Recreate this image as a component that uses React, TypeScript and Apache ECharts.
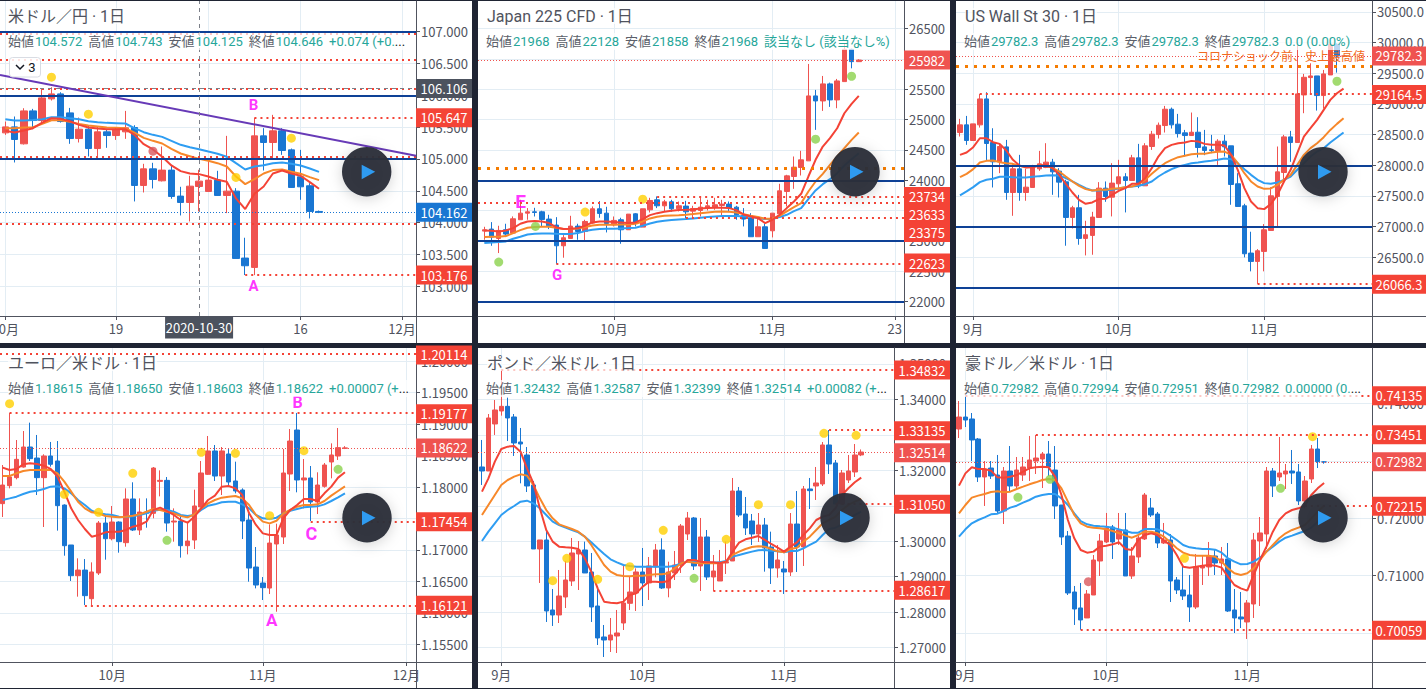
import React, { useEffect, useRef } from "react";
import * as echarts from "echarts";

// Bars are rows of [open, high, low, close]
const usdJpyBars = [
  [105.41,105.588,105.379,105.504],[105.504,105.667,104.945,105.306],[105.238,105.797,105.227,105.755],[105.755,105.787,105.468,105.604],
  [105.604,106.111,105.572,105.959],[105.944,106.127,105.918,106.022],[106.022,106.048,105.572,105.588],[105.724,105.802,105.238,105.321],
  [105.321,105.651,105.259,105.468],[105.468,105.52,105.039,105.164],[105.164,105.51,105.039,105.426],[105.426,105.457,105.175,105.368],
  [105.368,105.494,105.3,105.457],[105.426,105.755,105.316,105.489],[105.494,105.53,104.333,104.584],[104.584,104.924,104.474,104.845],
  [104.845,104.94,104.537,104.678],[104.657,105.196,104.647,104.825],[104.825,104.892,104.375,104.411],[104.417,104.563,104.113,104.317],
  [104.317,104.736,104.019,104.573],[104.568,104.83,104.176,104.652],[104.49,104.966,104.485,104.668],[104.668,104.814,104.422,104.427],
  [104.427,105.363,104.15,104.495],[104.495,104.542,103.438,103.438],[103.444,103.763,103.177,103.323],[103.297,105.647,103.176,105.363],
  [105.363,105.484,104.819,105.259],[105.259,105.693,105.007,105.442],[105.442,105.484,105.065,105.133],[105.143,105.164,104.547,104.553],
  [104.72,105.143,104.359,104.563],[104.579,104.62,104.066,104.176],[104.176,104.19,104.15,104.162],
];
const usdJpyBlue = [105.625,105.604,105.604,105.614,105.625,105.656,105.656,105.64,105.625,105.593,105.578,105.567,105.562,105.557,105.484,105.421,105.379,105.347,105.285,105.222,105.185,105.154,105.117,105.081,105.034,104.934,104.835,104.882,104.903,104.934,104.945,104.924,104.898,104.851,104.798];
const usdJpyOrange = [105.484,105.484,105.494,105.499,105.551,105.609,105.609,105.583,105.551,105.525,105.51,105.494,105.489,105.484,105.415,105.332,105.285,105.243,105.159,105.086,105.044,105.002,104.971,104.934,104.882,104.725,104.605,104.683,104.772,104.825,104.835,104.798,104.767,104.715,104.668];
const usdJpyRed = [105.442,105.415,105.447,105.484,105.572,105.64,105.63,105.593,105.536,105.494,105.478,105.468,105.468,105.468,105.379,105.232,105.149,105.034,104.898,104.809,104.772,104.762,104.725,104.673,104.641,104.38,104.213,104.453,104.568,104.772,104.819,104.772,104.736,104.636,104.532];

const jp225Bars = [
  [23162,23233,23019,23184],[23195,23310,22920,23063],[23041,23250,22800,23173],[23184,23283,23063,23113],[23129,23404,23113,23365],
  [23349,23678,23349,23458],[23458,23541,23349,23480],[23480,23546,23403,23469],[23480,23497,23239,23354],[23360,23431,23195,23250],
  [23261,23392,22623,22920],[22920,23096,22723,23052],[23041,23414,23041,23244],[23244,23283,23019,23156],[23156,23349,22992,23321],
  [23294,23568,23283,23530],[23530,23656,23382,23453],[23458,23563,23140,23288],[23266,23403,23239,23338],[23349,23382,22953,23184],
  [23184,23442,23184,23442],[23447,23458,23239,23288],[23228,23530,23228,23530],[23513,23711,23469,23667],[23678,23734,23541,23579],
  [23579,23678,23486,23645],[23645,23678,23480,23530],[23530,23650,23486,23579],[23574,23661,23371,23480],[23491,23579,23371,23535],
  [23502,23734,23403,23557],[23541,23678,23502,23579],[23557,23711,23513,23596],[23585,23678,23414,23607],[23607,23650,23475,23541],
  [23557,23579,23349,23431],[23420,23541,23239,23360],[23376,23458,23069,23069],[23069,23403,23069,23233],[23233,23283,22876,22876],
  [23167,23458,23058,23458],[23447,23942,23447,23826],[23815,24090,23568,24073],[24062,24392,23859,24216],[24211,24485,24079,24337],
  [24320,25918,24320,25391],[25391,25490,24831,25308],[25308,25720,25144,25589],[25589,25610,25210,25325],[25325,25671,25188,25638],
  [25627,26258,25627,26159],[26159,26170,25846,25956],[25956,25995,25950,25982],
];
const jp225Blue = [22964,22975,22981,22992,23036,23069,23107,23118,23124,23124,23118,23113,23113,23129,23162,23184,23195,23200,23200,23206,23211,23217,23250,23288,23316,23332,23343,23354,23360,23371,23382,23393,23403,23409,23409,23409,23403,23393,23376,23360,23360,23393,23431,23491,23541,23689,23832,23936,24018,24117,24243,24348,24447];
const jp225Orange = [23063,23069,23069,23080,23129,23178,23217,23228,23233,23233,23217,23195,23195,23206,23228,23255,23266,23266,23266,23272,23272,23283,23321,23371,23398,23414,23420,23425,23431,23442,23458,23469,23480,23486,23480,23469,23442,23414,23393,23365,23365,23414,23486,23557,23623,23815,23980,24106,24254,24392,24529,24666,24787];
const jp225Red = [23173,23167,23156,23173,23211,23283,23321,23327,23321,23294,23222,23195,23200,23211,23250,23305,23321,23321,23310,23305,23294,23305,23360,23425,23458,23480,23497,23508,23513,23519,23535,23541,23546,23546,23541,23508,23436,23403,23376,23294,23349,23431,23541,23650,23777,24062,24337,24556,24694,24858,25105,25259,25391];

const us30Bars = [
  [28534,28757,28469,28659],[28659,28805,28333,28404],[28404,28675,28404,28675],[28659,29164.5,28615,29082],[29082,29191,28067,28355],
  [28371,28604,27638,28056],[28056,28360,27871,28306],[28300,28414,27437,27556],[27556,28018,27176,27942],[27942,28170,27421,27556],
  [27556,27942,27421,27643],[27638,28007,27638,27980],[27942,28235,27909,28023],[27964,28360,27953,28051],[28051,28105,27518,27893],
  [27904,27953,27475,27725],[27730,27763,26688,27149],[27149,27339,26970,27307],[27307,27518,26704,26807],[26807,27095,26530,26867],
  [26856,27241,26541,27155],[27149,27725,27149,27627],[27627,27736,27404,27491],[27480,28034,27166,27709],[27698,28089,27600,27812],
  [27812,27871,27231,27752],[27752,28170,27752,28121],[28121,28349,27627,27665],[27665,28360,27665,28317],[28306,28561,28251,28507],
  [28501,28697,28436,28653],[28648,28968,28534,28914],[28914,28941,28599,28659],[28670,28838,28452,28518],[28529,28577,28143,28485],
  [28485,28860,28485,28539],[28539,28784,28127,28290],[28300,28577,28165,28241],[28252,28496,28197,28241],[28241,28425,28007,28393],
  [28393,28496,28143,28300],[28317,28317,27356,27687],[27698,27871,27328,27328],[27339,27372,26498,26557],[26568,26916,26270,26432],
  [26432,26633,26066.3,26606],[26595,27041,26270,26948],[26937,27643,26937,27502],[27491,28306,26992,27893],[27882,28496,27741,28463],
  [28463,28561,28056,28371],[28371,29962,28371,29164],[29147,29490,28849,29435],[29430,29663,29147,29457],[29457,29457,28892,29137],
  [29137,29555,28925,29490],[29473,29989,29473,29973],[29973,29989,29511,29782],[29782.3,29782.3,29782.3,29782.3],
];
const us30Blue = [27508,27573,27643,27725,27763,27779,27812,27812,27806,27801,27801,27812,27823,27833,27839,27833,27790,27736,27681,27627,27589,27589,27594,27600,27622,27643,27654,27665,27692,27736,27817,27882,27937,27980,28007,28034,28045,28061,28072,28089,28110,28099,28034,27937,27844,27763,27709,27698,27719,27763,27817,27926,28034,28143,28224,28279,28371,28452,28534];
const us30Orange = [27806,27860,27937,28045,28072,28078,28051,28034,28023,27991,27969,27980,27996,27996,27953,27899,27817,27736,27665,27611,27589,27600,27600,27616,27627,27643,27654,27692,27763,27860,27953,28034,28089,28132,28154,28181,28186,28186,28208,28219,28224,28170,28034,27871,27736,27654,27616,27622,27681,27763,27844,28007,28170,28279,28360,28458,28577,28675,28767];
const us30Red = [28170,28208,28295,28441,28441,28376,28349,28241,28089,27996,27964,27969,27991,28007,27953,27844,27698,27556,27437,27372,27394,27448,27453,27518,27584,27627,27698,27698,27790,27953,28143,28279,28333,28360,28371,28398,28387,28349,28333,28333,28322,28170,27926,27627,27410,27301,27285,27366,27518,27736,27926,28197,28469,28604,28740,28903,29066,29175,29251];

const eurUsdBars = [
  [1.17736,1.1835,1.17524,1.18032],[1.18022,1.19177,1.17979,1.18159],[1.18149,1.18747,1.18122,1.1844],[1.18318,1.1889,1.18308,1.18636],[1.18636,1.19023,1.18414,1.18451],
  [1.18461,1.18827,1.17873,1.18149],[1.18149,1.1852,1.17365,1.18493],[1.18493,1.18716,1.18324,1.18361],[1.18414,1.18731,1.17307,1.17704],[1.17714,1.17725,1.16909,1.17068],
  [1.17079,1.17079,1.16507,1.16591],[1.16591,1.16867,1.16258,1.16681],[1.16681,1.16856,1.16125,1.16274],[1.16226,1.16803,1.16125,1.1665],[1.16634,1.1746,1.16602,1.17428],
  [1.17428,1.17545,1.16846,1.17179],[1.17179,1.17699,1.17153,1.17444],[1.17444,1.17455,1.16957,1.17132],[1.17116,1.17979,1.17052,1.1781],[1.1781,1.18075,1.17301,1.17317],
  [1.17317,1.1782,1.17238,1.17603],[1.17603,1.1782,1.17354,1.17582],[1.17582,1.18318,1.17503,1.18302],[1.1809,1.18265,1.17852,1.18106],[1.18106,1.18159,1.17291,1.17428],
  [1.17444,1.17661,1.17132,1.1746],[1.1746,1.17571,1.16878,1.17068],[1.17068,1.1745,1.1693,1.17142],[1.17158,1.17958,1.17015,1.17699],[1.17683,1.18414,1.17672,1.18223],
  [1.18202,1.18811,1.18191,1.18573],[1.18573,1.18668,1.18096,1.18175],[1.18175,1.18636,1.17873,1.18573],[1.18525,1.18604,1.18016,1.1808],[1.18096,1.18403,1.179,1.17937],
  [1.17953,1.17979,1.17174,1.1746],[1.17476,1.17582,1.16496,1.16713],[1.16729,1.17047,1.1639,1.16443],[1.16475,1.1657,1.16205,1.16401],[1.16395,1.17407,1.163,1.1711],
  [1.17095,1.17418,1.16019,1.17238],[1.17206,1.18604,1.17095,1.18223],[1.18207,1.18922,1.17937,1.18731],[1.18906,1.19177,1.17916,1.18112],[1.18112,1.18445,1.17661,1.18144],
  [1.18144,1.18334,1.1746,1.17762],[1.17762,1.18234,1.17571,1.18032],[1.18011,1.18382,1.1799,1.1835],[1.18398,1.18694,1.18138,1.18509],[1.18493,1.18938,1.1843,1.18626],
  [1.18615,1.1865,1.18603,1.18622],
];
const eurUsdBlue = [1.17794,1.1782,1.17847,1.17889,1.17926,1.17942,1.17969,1.18006,1.18011,1.17979,1.179,1.17794,1.17714,1.17624,1.17582,1.17566,1.17556,1.17529,1.17524,1.17534,1.17556,1.17582,1.17624,1.1764,1.17635,1.17608,1.17556,1.1754,1.17556,1.17635,1.17704,1.17725,1.17757,1.17767,1.17767,1.17725,1.17661,1.17556,1.17503,1.17492,1.17513,1.17582,1.17624,1.17651,1.17677,1.17688,1.17693,1.17725,1.17778,1.17836,1.179];
const eurUsdOrange = [1.18175,1.18175,1.18218,1.18255,1.18271,1.18271,1.18276,1.18271,1.18218,1.18085,1.17926,1.17767,1.17661,1.17598,1.17582,1.1754,1.17529,1.17518,1.17529,1.17545,1.17566,1.17608,1.17651,1.17635,1.17608,1.17582,1.1754,1.17518,1.17566,1.17661,1.17741,1.17794,1.17831,1.17847,1.17857,1.1782,1.17714,1.17556,1.1745,1.17423,1.17465,1.17582,1.17635,1.17688,1.17714,1.17714,1.17725,1.17778,1.17863,1.17937,1.18011];
const eurUsdRed = [1.18308,1.18271,1.18287,1.18361,1.18377,1.18366,1.18339,1.18287,1.18165,1.17926,1.17661,1.17476,1.17333,1.17211,1.17238,1.1728,1.17291,1.17291,1.17317,1.1737,1.17397,1.1745,1.17635,1.17672,1.17619,1.17556,1.17476,1.17434,1.17529,1.17661,1.17794,1.17863,1.18006,1.18016,1.17979,1.17873,1.17582,1.17397,1.17264,1.17238,1.17238,1.17503,1.17635,1.17714,1.1781,1.1781,1.17778,1.179,1.18006,1.18149,1.18234];

const gbpUsdBars = [
  [1.32093,1.32854,1.31586,1.3198],[1.3198,1.33586,1.3198,1.33474],[1.33305,1.33981,1.32995,1.33699],[1.33671,1.34832,1.33539,1.33802],[1.33802,1.34047,1.32826,1.33474],
  [1.33502,1.33586,1.32403,1.32769],[1.32797,1.33192,1.31632,1.32741],[1.32431,1.32656,1.31388,1.31557],[1.31586,1.31698,1.29782,1.29782],[1.29782,1.30036,1.28824,1.30036],
  [1.30036,1.30345,1.27725,1.28035],[1.28063,1.28655,1.27612,1.27922],[1.27922,1.2919,1.27696,1.28457],[1.28429,1.29444,1.28119,1.28908],[1.2888,1.30092,1.28739,1.29669],
  [1.29641,1.30007,1.28626,1.29754],[1.29754,1.29989,1.29106,1.29106],[1.29134,1.29669,1.27725,1.28147],[1.28175,1.28683,1.27076,1.27274],[1.27302,1.2764,1.26738,1.27217],
  [1.27217,1.27837,1.26879,1.27358],[1.2733,1.28063,1.26851,1.27415],[1.27696,1.29303,1.27499,1.2826],[1.28251,1.29021,1.28063,1.2857],[1.28542,1.29237,1.28035,1.29134],
  [1.29134,1.2981,1.28175,1.28824],[1.28824,1.29556,1.28345,1.29303],[1.29275,1.29923,1.28983,1.29754],[1.29754,1.30082,1.28655,1.28683],[1.28683,1.29425,1.2842,1.29134],
  [1.29106,1.29726,1.28908,1.29331],[1.29331,1.30486,1.29106,1.3043],[1.30205,1.30825,1.30036,1.30656],[1.30656,1.30684,1.2919,1.29303],[1.29303,1.30656,1.28598,1.3012],
  [1.3012,1.30317,1.28908,1.28993],[1.28993,1.29613,1.28598,1.29162],[1.2888,1.29754,1.2888,1.29416],[1.29387,1.29989,1.29077,1.29425],[1.29444,1.31783,1.29444,1.31416],
  [1.31416,1.31529,1.30684,1.3074],[1.30768,1.31247,1.30176,1.30374],[1.30571,1.30768,1.29895,1.30205],[1.30205,1.30796,1.29979,1.30458],[1.30458,1.30656,1.29143,1.2981],
  [1.29838,1.3027,1.28796,1.29246],[1.29246,1.29895,1.28974,1.29472],[1.29218,1.29444,1.28514,1.29134],[1.29134,1.30796,1.29021,1.30486],[1.30486,1.31416,1.29134,1.29838],
  [1.29838,1.31557,1.29303,1.31473],[1.31473,1.31783,1.30909,1.31426],[1.31557,1.32093,1.31163,1.31642],[1.31614,1.32797,1.31557,1.32713],[1.32713,1.33135,1.31896,1.32177],
  [1.32206,1.3229,1.3105,1.3105],[1.3105,1.32008,1.3105,1.31924],[1.31726,1.32431,1.31642,1.3198],[1.31952,1.32741,1.31811,1.32431],[1.32432,1.32587,1.32399,1.32514],
];
const gbpUsdBlue = [1.30007,1.3027,1.30505,1.3074,1.30881,1.30994,1.31116,1.31144,1.31069,1.30928,1.3074,1.30552,1.30458,1.30383,1.30317,1.30252,1.30129,1.2997,1.29801,1.29641,1.29491,1.29406,1.29331,1.29303,1.29284,1.29284,1.29284,1.29284,1.29284,1.29284,1.29312,1.29378,1.29425,1.29444,1.29425,1.29406,1.29397,1.29406,1.29444,1.29566,1.29613,1.2966,1.29707,1.29744,1.29754,1.29735,1.29716,1.29688,1.29726,1.29726,1.29801,1.29895,1.29989,1.30176,1.30345,1.30383,1.30477,1.30646,1.3074,1.30834];
const gbpUsdOrange = [1.3074,1.31022,1.31304,1.31586,1.31726,1.3182,1.31886,1.31849,1.31586,1.3121,1.30881,1.30646,1.30477,1.30411,1.30345,1.3027,1.30129,1.29895,1.29613,1.29331,1.29143,1.29049,1.29021,1.29012,1.2903,1.2903,1.29049,1.29068,1.29068,1.29096,1.29237,1.29378,1.29425,1.29397,1.29378,1.29378,1.29378,1.29378,1.29425,1.29613,1.29707,1.29782,1.29838,1.29857,1.29848,1.29782,1.29716,1.29688,1.29782,1.29819,1.29989,1.30129,1.30317,1.30505,1.30599,1.30693,1.30881,1.31022,1.31116,1.31191];
const gbpUsdRed = [1.31398,1.31773,1.32243,1.326,1.32666,1.32685,1.32525,1.32055,1.31632,1.30928,1.30317,1.29989,1.29848,1.29829,1.29819,1.29782,1.29519,1.29143,1.28673,1.28298,1.28269,1.28251,1.28298,1.28485,1.28532,1.2872,1.28861,1.28861,1.28842,1.2888,1.29068,1.29284,1.29472,1.29472,1.29425,1.29406,1.29406,1.29378,1.29425,1.29707,1.2996,1.30054,1.30101,1.30148,1.30036,1.29923,1.29819,1.29707,1.29848,1.2997,1.30176,1.30364,1.30599,1.30693,1.3074,1.30928,1.31304,1.31492,1.31661,1.31792];

const audUsdBars = [
  [0.73555,0.74043,0.73399,0.73764],[0.73764,0.74135,0.7359,0.73712],[0.7373,0.73834,0.72998,0.73364],[0.73381,0.73399,0.72633,0.7272],[0.7272,0.72998,0.72215,0.72841],
  [0.72876,0.72998,0.72685,0.72737],[0.72754,0.73103,0.72093,0.72128],[0.72128,0.72894,0.71901,0.72824],[0.72824,0.73259,0.72476,0.72563],[0.72563,0.73068,0.72511,0.72841],
  [0.72754,0.73068,0.7265,0.72894],[0.72876,0.73434,0.7265,0.73016],[0.72998,0.73451,0.72772,0.7305],[0.73033,0.73155,0.72528,0.7312],[0.7312,0.73346,0.72737,0.72894],
  [0.72841,0.73259,0.71988,0.72215],[0.72232,0.72232,0.71536,0.71675],[0.71692,0.71779,0.70665,0.707],[0.70717,0.70822,0.70143,0.70421],[0.70439,0.70874,0.70059,0.7023],
  [0.70265,0.70752,0.70265,0.70682],[0.70665,0.71361,0.70665,0.71274],[0.71257,0.71727,0.70996,0.71605],[0.71588,0.72093,0.7157,0.71832],[0.71849,0.71884,0.71292,0.71588],
  [0.7164,0.72093,0.71536,0.71797],[0.71797,0.72093,0.70996,0.70996],[0.70996,0.71501,0.70944,0.71344],[0.71327,0.71692,0.71222,0.71658],[0.7164,0.72441,0.71623,0.72406],
  [0.7218,0.72354,0.72023,0.72058],[0.72075,0.7211,0.71483,0.7157],[0.7157,0.71919,0.71553,0.71623],[0.71623,0.71727,0.70543,0.70909],[0.70926,0.70978,0.70682,0.70752],
  [0.70752,0.71153,0.70578,0.70648],[0.70665,0.71013,0.70195,0.70456],[0.70456,0.71379,0.70421,0.71153],[0.71135,0.71361,0.70839,0.7117],[0.71153,0.71588,0.70996,0.71344],
  [0.71344,0.71449,0.71013,0.71222],[0.71222,0.71501,0.71013,0.71292],[0.71292,0.7157,0.70369,0.70386],[0.70404,0.70769,0.70003,0.70265],[0.70282,0.70717,0.7009,0.70247],
  [0.70195,0.70578,0.69899,0.70526],[0.70508,0.71745,0.70265,0.71623],[0.71605,0.72023,0.70473,0.71745],[0.71727,0.72894,0.71466,0.72824],[0.72824,0.72876,0.72371,0.72563],
  [0.7272,0.73416,0.7265,0.72789],[0.72772,0.72946,0.72511,0.72824],[0.72824,0.7319,0.72598,0.72789],[0.72807,0.72946,0.72232,0.72302],[0.72302,0.72737,0.72174,0.7265],
  [0.72685,0.73277,0.72615,0.73207],[0.73207,0.73399,0.72876,0.72987],[0.72982,0.72994,0.72951,0.72982],
];
const audUsdBlue = [0.71681,0.71808,0.71913,0.71971,0.72017,0.7207,0.72081,0.72128,0.72186,0.7222,0.72273,0.72319,0.72377,0.72406,0.72424,0.72424,0.72348,0.72232,0.72087,0.71953,0.71895,0.71872,0.71861,0.71855,0.71837,0.71808,0.71779,0.7175,0.7175,0.71814,0.71814,0.71808,0.71768,0.71698,0.71623,0.71536,0.71495,0.71478,0.71466,0.71466,0.71454,0.71402,0.71303,0.71245,0.71199,0.71205,0.71245,0.71315,0.7142,0.71507,0.71594,0.71663,0.71698,0.71739,0.71779,0.71837,0.71942,0.72029];
const audUsdOrange = [0.72087,0.72232,0.7236,0.72395,0.72424,0.72458,0.7247,0.72453,0.72464,0.72511,0.72551,0.72592,0.72627,0.72667,0.72685,0.72667,0.72522,0.7229,0.72058,0.71913,0.71855,0.71837,0.71826,0.71808,0.71779,0.71739,0.71698,0.71663,0.7171,0.71768,0.71768,0.71739,0.71681,0.71582,0.71478,0.71402,0.71361,0.7135,0.7135,0.7135,0.71332,0.71245,0.71129,0.71042,0.71013,0.71042,0.71129,0.71274,0.7142,0.71536,0.71652,0.71739,0.71797,0.71837,0.71884,0.72,0.72116,0.7222];
const audUsdRed = [0.72569,0.72783,0.72888,0.72859,0.72859,0.7283,0.72714,0.72708,0.72725,0.72754,0.72812,0.72871,0.72888,0.729,0.72888,0.72725,0.72406,0.71971,0.71652,0.71449,0.71402,0.7142,0.71507,0.71524,0.71547,0.71582,0.71466,0.71449,0.71623,0.7171,0.71739,0.7171,0.71611,0.71536,0.71361,0.71158,0.71141,0.71158,0.71176,0.71187,0.71176,0.71141,0.70984,0.70839,0.70781,0.7074,0.71013,0.71274,0.71507,0.71768,0.71971,0.72087,0.72145,0.72174,0.7222,0.72406,0.72522,0.72615];

const Y = "#ffd000", G = "#8bd24c", R = "#d9575c";
const RED_TAG = "#f44336", LAST_TAG = "#ef5350", BLUE_TAG = "#1976d2", DARK_TAG = "#4c525e";

// dots: [bar index, price, colour]
const usdJpyDots = [[5,106.284,Y],[9,105.703,Y],[25,104.71,Y],[31,105.327,Y],[16,105.123,R]];
const jp225Dots = [[2,22651,G],[7.1,23239,G],[46,24677,G],[51,25715,G],[14,23475,Y],[22,23689,Y]];
const us30Dots = [[57,29370,G]];
const eurUsdDots = [[1,1.19325,Y],[9,1.17884,Y],[14,1.17598,Y],[19,1.18218,Y],[29,1.18551,Y],[34,1.18535,Y],[39,1.17545,Y],[44,1.18578,Y],[24,1.17153,G],[49,1.18281,G]];
const gbpUsdDots = [[11,1.2889,Y],[13.2,1.29519,Y],[18,1.28927,Y],[23,1.29284,Y],[28.2,1.30308,Y],[38,1.30054,Y],[43,1.31031,Y],[48,1.31031,Y],[53.2,1.33042,Y],[58.2,1.32985,Y],[33,1.28955,G]];
const audUsdDots = [[9.2,0.72366,G],[14.2,0.72679,G],[20.2,0.70897,R],[35.2,0.71303,Y],[50.2,0.72522,G],[55.2,0.73422,Y]];

// letters: [bar index, price, text, size]
const usdJpyLetters = [[26.9,105.85,"B",15],[26.9,103.01,"A",15]];
const jp225Letters = [[5.05,23650,"E",19],[10.1,22432,"G",15]];
const eurUsdLetters = [[43.1,1.19346,"B",16],[39.3,1.15887,"A",17],[45.1,1.17259,"C",18]];

// level lines: [price, first bar or null, style]
const usdJpyLevels = [[107,null,"solid"],[106,null,"solid"],[105,null,"solid"],[106.97,null,"dot"],[106.556,null,"dot"],[106.106,null,"dot"],[106.106,null,"cross"],[105.647,27,"dot"],[105.04,null,"dot"],[103.98,null,"dot"],[103.176,26,"dot"],[104.162,null,"thinBlue"]];
const jp225Levels = [[24000,null,"solid"],[23000,null,"solid"],[22000,null,"solid"],[24198,null,"orange"],[23734,24,"dot"],[23633,null,"dot"],[23375,28,"dot"],[22623,10,"dot"],[25982,null,"thin"]];
const us30Levels = [[28000,null,"solid"],[27000,null,"solid"],[26000,null,"solid"],[29614,null,"orange"],[29164.5,3,"dot"],[26066.3,45,"dot"],[29782.3,null,"thin"]];
const eurUsdLevels = [[1.20114,null,"dot"],[1.19177,1,"dot"],[1.17454,45,"dot"],[1.16121,12,"dot"],[1.18622,null,"thin"]];
const gbpUsdLevels = [[1.34832,3,"dot"],[1.33135,54,"dot"],[1.3105,55,"dot"],[1.28617,36,"dot"],[1.32514,null,"thin"]];
const audUsdLevels = [[0.74135,1,"dot"],[0.73451,12,"dot"],[0.72215,54,"dot"],[0.70059,19,"dot"],[0.72982,null,"thin"]];

// price tags: [text, price the tag sits at, colour]
const usdJpyTags = [["106.106",106.106,DARK_TAG],["105.647",105.647,RED_TAG],["104.162",104.162,BLUE_TAG],["103.176",103.176,RED_TAG]];
const jp225Tags = [["25982",25982,LAST_TAG],["23734",23733,RED_TAG],["23633",23436,RED_TAG],["23375",23140,RED_TAG],["22623",22635,RED_TAG]];
const us30Tags = [["29782.3",29782.3,LAST_TAG],["29164.5",29153,RED_TAG],["26066.3",26060,RED_TAG]];
const eurUsdTags = [["1.20114",1.20098,RED_TAG],["1.19177",1.19166,RED_TAG],["1.18622",1.18622,LAST_TAG],["1.17454",1.17449,RED_TAG],["1.16121",1.16121,RED_TAG]];
const gbpUsdTags = [["1.34832",1.34826,RED_TAG],["1.33135",1.33117,RED_TAG],["1.32514",1.32497,LAST_TAG],["1.31050",1.31041,RED_TAG],["1.28617",1.28617,RED_TAG]];
const audUsdTags = [["0.74135",0.74135,RED_TAG],["0.73451",0.73455,RED_TAG],["0.72982",0.72986,LAST_TAG],["0.72215",0.72209,RED_TAG],["0.70059",0.7005,RED_TAG]];

const usdJpyYTicks = [107,106.5,106,105.5,105,104.5,104,103.5,103];
const jp225YTicks = [26500,26000,25500,25000,24500,24000,23500,23000,22500,22000];
const us30YTicks = [30500,30000,29500,29000,28500,28000,27500,27000,26500,26000];
const eurUsdYTicks = [1.2,1.195,1.19,1.185,1.18,1.175,1.17,1.165,1.16,1.155];
const gbpUsdYTicks = [1.35,1.34,1.33,1.32,1.31,1.3,1.29,1.28,1.27];
const audUsdYTicks = [0.74,0.73,0.72,0.71,0.7];

const usdJpyXTicks = [0,12,22,32,43], usdJpyXLabels = ["10月","19","11月","16","12月"];
const jp225XTicks = [18,40,57], jp225XLabels = ["10月","11月","23"];
const us30XTicks = [2,24,46], us30XLabels = ["9月","10月","11月"];
const eurUsdXTicks = [16,38,59], eurUsdXLabels = ["10月","11月","12月"];
const gbpUsdXTicks = [3,25,47], gbpUsdXLabels = ["9月","10月","11月"];
const audUsdXTicks = [1,23,45], audUsdXLabels = ["9月","10月","11月"];

const ohlc = (o: string, h: string, l: string, c: string, tail: string) =>
  `{k|始値}{v|${o}}{k|高値}{v|${h}}{k|安値}{v|${l}}{k|終値}{v|${c}}${tail}`;

const panels: any[] = [
  { title: "米ドル／円 · 1日", legend: ohlc("104.572", "104.743", "104.125", "104.646", "{c|+0.074 (+0.}{d|...}"),
    rect: [0, 1, 472, 342], grid: [0, 1, 416, 315], x: [-0.578, 44.51], y: [102.534, 107.481], play: [366.7, 171.7], barW: 7, digits: 3,
    bars: usdJpyBars, blue: usdJpyBlue, orange: usdJpyOrange, red: usdJpyRed, dots: usdJpyDots, letters: usdJpyLetters, levels: usdJpyLevels, tags: usdJpyTags, yTicks: usdJpyYTicks, xTicks: usdJpyXTicks, xLabels: usdJpyXLabels,
    legendXY: [8, 33], titleXY: [8, 8], trend: [106.32, 105.05], cross: 21, crossLabel: "2020-10-30" },
  { title: "Japan 225 CFD · 1日", legend: ohlc("21968", "22128", "21858", "21968", "{c|該当なし (該当なし%)}"),
    rect: [478, 1, 472, 342], grid: [478, 1, 426, 315], x: [-0.879, 58.28], y: [21762, 26956], play: [855, 171.7], barW: 5, digits: 0,
    bars: jp225Bars, blue: jp225Blue, orange: jp225Orange, red: jp225Red, dots: jp225Dots, letters: jp225Letters, levels: jp225Levels, tags: jp225Tags, yTicks: jp225YTicks, xTicks: jp225XTicks, xLabels: jp225XLabels,
    legendXY: [486, 33], titleXY: [487, 8] },
  { title: "US Wall St 30 · 1日", legend: ohlc("29782.3", "29782.3", "29782.3", "29782.3", "{c|0.0 (0.00%)}"),
    rect: [956, 1, 470, 342], grid: [956, 1, 416, 315], x: [-0.605, 62.3], y: [25542, 30679], play: [1323, 171.7], barW: 5, digits: 1,
    bars: us30Bars, blue: us30Blue, orange: us30Orange, red: us30Red, dots: us30Dots, letters: [], levels: us30Levels, tags: us30Tags, yTicks: us30YTicks, xTicks: us30XTicks, xLabels: us30XLabels,
    legendXY: [964, 33], titleXY: [965, 8] },
  { title: "ユーロ／米ドル · 1日", legend: ohlc("1.18615", "1.18650", "1.18603", "1.18622", "{c|+0.00007 (+}{d|...}"),
    rect: [0, 348, 472, 340], grid: [0, 348, 416, 314], x: [-0.4, 60.38], y: [1.1522, 1.20209], play: [367, 517.7], barW: 5, digits: 5,
    bars: eurUsdBars, blue: eurUsdBlue, orange: eurUsdOrange, red: eurUsdRed, dots: eurUsdDots, letters: eurUsdLetters, levels: eurUsdLevels, tags: eurUsdTags, yTicks: eurUsdYTicks, xTicks: eurUsdXTicks, xLabels: eurUsdXLabels,
    legendXY: [8, 380], titleXY: [8, 355] },
  { title: "ポンド／米ドル · 1日", legend: ohlc("1.32432", "1.32587", "1.32399", "1.32514", "{c|+0.00082 (+}{d|...}"),
    rect: [478, 348, 472, 340], grid: [478, 348, 416, 314], x: [-0.62, 64.1], y: [1.26597, 1.35446], play: [845, 517.7], barW: 5, digits: 5,
    bars: gbpUsdBars, blue: gbpUsdBlue, orange: gbpUsdOrange, red: gbpUsdRed, dots: gbpUsdDots, letters: [], levels: gbpUsdLevels, tags: gbpUsdTags, yTicks: gbpUsdYTicks, xTicks: gbpUsdXTicks, xLabels: gbpUsdXLabels,
    legendXY: [486, 380], titleXY: [487, 355] },
  { title: "豪ドル／米ドル · 1日", legend: ohlc("0.72982", "0.72994", "0.72951", "0.72982", "{c|0.00000 (0.}{d|...}"),
    rect: [956, 348, 470, 340], grid: [956, 348, 416, 314], x: [-0.468, 64.48], y: [0.69498, 0.74966], play: [1323, 517.7], barW: 5, digits: 5,
    bars: audUsdBars, blue: audUsdBlue, orange: audUsdOrange, red: audUsdRed, dots: audUsdDots, letters: [], levels: audUsdLevels, tags: audUsdTags, yTicks: audUsdYTicks, xTicks: audUsdXTicks, xLabels: audUsdXLabels,
    legendXY: [964, 380], titleXY: [965, 355] },
];

const TAXT = '"Liberation Sans Narrow", "Noto Sans CJK JP", sans-serif';
const TEXT = 'Roboto, "Noto Sans CJK JP", sans-serif';
const AXIS = "#50535e";
const GRID = "#e3edf4";

const levelStyles: Record<string, any> = {
  solid: { color: "#0e4196", width: 2, type: "solid" },
  dot: { color: "#f44336", width: 2, type: [2, 4] },
  thin: { color: "#ef5350", width: 1, type: [1, 2] },
  thinBlue: { color: "#1976d2", width: 1, type: [1, 2] },
  orange: { color: "#f57c00", width: 3, type: [3, 6] },
  cross: { color: "#7c8089", width: 1, type: [4, 4] },
};

function buildOption() {
  const grid: any[] = [], xAxis: any[] = [], yAxis: any[] = [], series: any[] = [], title: any[] = [], graphic: any[] = [];
  panels.forEach((p, gi) => {
    const [gx, gy, gw, gh] = p.grid;
    const [rx, ry, rw, rh] = p.rect;
    const [xMin, xMax] = p.x;
    const [yMin, yMax] = p.y;
    grid.push({ left: gx, top: gy, width: gw, height: gh, containLabel: false, outerBoundsMode: "none" });
    xAxis.push({
      type: "value", gridIndex: gi, min: xMin, max: xMax, position: "bottom", scale: true, containShape: false,
      axisLine: { show: true, onZero: false, lineStyle: { color: AXIS, width: 1 } },
      axisTick: { show: true, length: 4, customValues: p.xTicks, lineStyle: { color: AXIS } },
      axisLabel: { customValues: p.xTicks, margin: 6, color: AXIS, fontSize: 13, fontFamily: TAXT,
        formatter: (v: number) => p.xLabels[p.xTicks.indexOf(v)] ?? "" },
      splitLine: { show: true, lineStyle: { color: GRID, width: 1 } },
    });
    yAxis.push({
      type: "value", gridIndex: gi, min: yMin, max: yMax, position: "right", scale: true,
      axisLine: { show: true, onZero: false, lineStyle: { color: AXIS, width: 1 } },
      axisTick: { show: true, length: 4, customValues: p.yTicks, lineStyle: { color: AXIS } },
      axisLabel: { customValues: p.yTicks, margin: 5, color: AXIS, fontSize: 13, fontFamily: TAXT,
        formatter: (v: number) => v.toFixed(p.digits) },
      splitLine: { show: true, lineStyle: { color: GRID, width: 1 } },
    });

    const lineData: any[] = p.levels.map((l: any) => [
      { coord: [l[1] ?? xMin, l[0]], lineStyle: levelStyles[l[2]] },
      { coord: [xMax, l[0]] },
    ]);
    if (p.trend) {
      lineData.push([
        { coord: [xMin, p.trend[0]], lineStyle: { color: "#673ab7", width: 2, type: "solid" } },
        { coord: [xMax, p.trend[1]] },
      ]);
    }
    if (p.cross != null) {
      lineData.push([
        { coord: [p.cross, yMin], lineStyle: levelStyles.cross },
        { coord: [p.cross, yMax] },
      ]);
    }
    const tagW = rx + rw - gx - gw;
    const tagPoints: any[] = p.tags.map((t: any) => ({
      coord: [xMax, t[1]], symbol: "rect", symbolSize: [tagW, 19], symbolOffset: [tagW / 2, 0],
      itemStyle: { color: t[2] },
      label: { show: true, position: "inside", formatter: t[0], color: "#fff", fontSize: 13, fontFamily: TAXT },
    }));
    if (p.crossLabel) {
      tagPoints.push({
        coord: [p.cross, yMin], symbol: "rect", symbolSize: [68, 22], symbolOffset: [0, 11.5],
        itemStyle: { color: DARK_TAG },
        label: { show: true, position: "inside", formatter: p.crossLabel, color: "#fff", fontSize: 13, fontFamily: TAXT },
      });
    }

    series.push({
      type: "candlestick", xAxisIndex: gi, yAxisIndex: gi, barWidth: p.barW, clip: true,
      encode: { x: 0, y: [1, 2, 3, 4] },
      data: p.bars.map((b: number[], i: number) => [i, b[0], b[3], b[2], b[1]]),
      itemStyle: { color: "#ef5350", color0: "#1976d2", borderColor: "#ef5350", borderColor0: "#1976d2", borderWidth: 1 },
      markLine: { symbol: "none", silent: true, animation: false, precision: 6, label: { show: false }, data: lineData },
      markPoint: { silent: true, animation: false, data: tagPoints },
    });
    ([["blue", "#2e9df2"], ["orange", "#f7882a"], ["red", "#f44336"]] as const).forEach(([k, c]) => {
      series.push({
        type: "line", xAxisIndex: gi, yAxisIndex: gi, showSymbol: false, silent: true, z: 3,
        data: p[k].map((v: number, i: number) => [i, v]),
        lineStyle: { color: c, width: 2 }, itemStyle: { color: c },
      });
    });
    if (p.dots.length) {
      series.push({
        type: "scatter", xAxisIndex: gi, yAxisIndex: gi, symbolSize: 9, silent: true, z: 4,
        data: p.dots.map((d: any) => ({ value: [d[0], d[1]], itemStyle: { color: d[2] } })),
      });
    }
    if (p.letters.length) {
      series.push({
        type: "scatter", xAxisIndex: gi, yAxisIndex: gi, symbolSize: 1, silent: true, z: 4,
        itemStyle: { color: "transparent" },
        data: p.letters.map((d: any) => ({
          value: [d[0], d[1]],
          label: { show: true, position: "inside", formatter: d[2], color: "#ff00ff", fontSize: d[3], fontWeight: "bold", fontFamily: TEXT },
        })),
      });
    }

    title.push({
      left: p.titleXY[0], top: p.titleXY[1], padding: 0, text: p.title,
      backgroundColor: "rgba(255,255,255,0.7)",
      textStyle: { color: "#50535e", fontSize: 16, fontWeight: "normal", fontFamily: TEXT },
    });
    title.push({
      left: p.legendXY[0], top: p.legendXY[1], padding: [2, 0, 2, 0], text: p.legend,
      backgroundColor: "rgba(255,255,255,0.7)",
      textStyle: {
        fontSize: 13, fontWeight: "normal", fontFamily: TEXT, color: "#26a69a",
        rich: {
          k: { color: "#5b5f6a", fontSize: 13, fontFamily: TEXT },
          v: { color: "#26a69a", fontSize: 13, fontFamily: TEXT, padding: [0, 6, 0, 1] },
          c: { color: "#26a69a", fontSize: 13, fontFamily: TEXT },
          d: { color: "#131722", fontSize: 13, fontFamily: TEXT },
        },
      },
    });

    graphic.push({ type: "rect", z: -100, silent: true, shape: { x: rx, y: ry, width: rw, height: rh }, style: { fill: "#ffffff" } });
    graphic.push({ type: "line", z: 1, silent: true, shape: { x1: gx + gw, y1: gy + gh + 0.5, x2: rx + rw, y2: gy + gh + 0.5 }, style: { stroke: AXIS, lineWidth: 1 } });
    graphic.push({ type: "line", z: 1, silent: true, shape: { x1: gx + gw + 0.5, y1: gy + gh, x2: gx + gw + 0.5, y2: ry + rh }, style: { stroke: AXIS, lineWidth: 1 } });
    const [cx, cy] = p.play;
    graphic.push({ type: "circle", z: 200, silent: true, shape: { cx, cy, r: 24.7 }, style: { fill: "#2a2e39", opacity: 0.96, shadowBlur: 14, shadowColor: "rgba(0,0,0,0.18)", shadowOffsetY: 2 } });
    graphic.push({ type: "polygon", z: 201, silent: true, shape: { points: [[cx - 5, cy - 7], [cx + 8.5, cy], [cx - 5, cy + 7.5]] }, style: { fill: "#2f9bf0" } });
  });

  graphic.push({ type: "rect", z: 150, silent: true, shape: { x: 9.5, y: 57.5, width: 31, height: 19.5, r: 3 }, style: { fill: "rgba(255,255,255,0.85)", stroke: "#d9dce3", lineWidth: 1 } });
  graphic.push({ type: "polyline", z: 151, silent: true, shape: { points: [[16, 65], [20, 69], [24, 65]] }, style: { stroke: "#131722", lineWidth: 1.5, fill: "none" } });
  graphic.push({ type: "text", z: 151, silent: true, x: 32, y: 67.5, style: { text: "3", fill: "#131722", font: `13px ${TEXT}`, align: "center", verticalAlign: "middle" } });
  graphic.push({ type: "text", z: 120, silent: true, x: 1365, y: 57, style: { text: "コロナショック前、史上最高値", fill: "#f26a21", font: `12px ${TEXT}`, align: "right", verticalAlign: "middle" } });

  return { animation: false, backgroundColor: "transparent", tooltip: { show: false }, grid, xAxis, yAxis, series, title, graphic };
}

export default function App() {
  const ref = useRef<HTMLDivElement>(null);
  useEffect(() => {
    const chart = echarts.init(ref.current!, undefined, { renderer: "svg" });
    chart.setOption(buildOption() as any);
    return () => chart.dispose();
  }, []);
  return (
    <div style={{ position: "fixed", left: 0, top: 0, width: 1426, height: 689, background: "#1f2433", overflow: "hidden" }}>
      <div ref={ref} style={{ width: 1426, height: 689 }} />
    </div>
  );
}
